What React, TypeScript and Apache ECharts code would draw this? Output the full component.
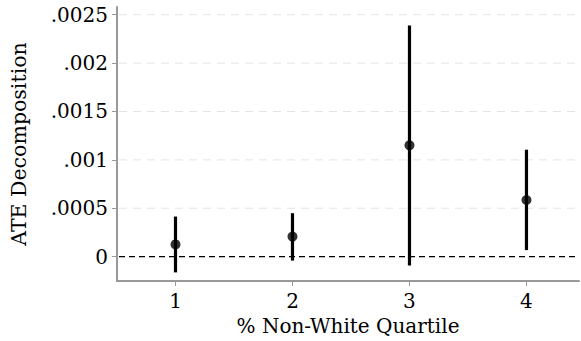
import React, { useEffect, useRef } from "react";
import * as echarts from "echarts";

const quartiles = [1, 2, 3, 4];
const estimates = [0.000126, 0.000207, 0.00115, 0.000585];
const ciLow = [-0.000163, -0.000041, -0.000092, 0.000067];
const ciHigh = [0.000414, 0.000449, 0.00239, 0.001105];
const yTicks = [0, 0.0005, 0.001, 0.0015, 0.002, 0.0025];
const yTickLabels = ["0", ".0005", ".001", ".0015", ".002", ".0025"];
const xTickLabels = ["1", "2", "3", "4"];

const FONT = "'DejaVu Serif', serif";

export default function App() {
  const ref = useRef<HTMLDivElement>(null);
  useEffect(() => {
    if (!ref.current) return;
    const chart = echarts.init(ref.current, undefined, { renderer: "svg" });
    const ciData = quartiles.map((q, i) => [q, ciLow[i], ciHigh[i]]);
    const gridData = yTicks.map((t) => [quartiles[0], t]);
    chart.setOption({
      animation: false,
      backgroundColor: "#ffffff",
      textStyle: { fontFamily: FONT },
      grid: { left: 117, right: 2, top: 7, bottom: 58, containLabel: false },
      xAxis: {
        type: "value",
        min: 0.5,
        max: 4.449,
        name: "% Non-White Quartile",
        nameLocation: "middle",
        nameGap: 35,
        nameTextStyle: { fontFamily: FONT, fontSize: 20, color: "#000" },
        axisLine: { show: true, onZero: false, lineStyle: { color: "#999", width: 2 } },
        axisTick: { show: true, customValues: quartiles, length: 5, lineStyle: { color: "#999", width: 1 } },
        axisLabel: {
          customValues: quartiles,
          formatter: (v: number) => xTickLabels[quartiles.indexOf(v)] ?? "",
          fontFamily: FONT,
          fontSize: 20,
          color: "#000",
          margin: 10,
        },
        splitLine: { show: false },
      },
      yAxis: {
        type: "value",
        min: -0.000252,
        max: 0.00258,
        name: "ATE Decomposition",
        nameLocation: "middle",
        nameGap: 88,
        nameTextStyle: { fontFamily: FONT, fontSize: 20.5, color: "#000" },
        axisLine: { show: true, onZero: false, lineStyle: { color: "#999", width: 2 } },
        axisTick: { show: true, customValues: yTicks, length: 5, lineStyle: { color: "#999", width: 1 } },
        axisLabel: {
          customValues: yTicks,
          formatter: (v: number) => {
            const idx = yTicks.findIndex((t) => Math.abs(t - v) < 1e-9);
            return idx >= 0 ? yTickLabels[idx] : "";
          },
          fontFamily: FONT,
          fontSize: 20,
          color: "#000",
          margin: 9,
        },
        splitLine: { show: false },
      },
      series: [
        {
          type: "custom",
          data: gridData,
          silent: true,
          clip: false,
          renderItem: (params: any, api: any) => {
            const cs = params.coordSys;
            const v = api.value(1);
            const y = api.coord([api.value(0), v])[1];
            const isZero = Math.abs(v) < 1e-12;
            return {
              type: "line",
              shape: { x1: cs.x + 2, y1: y, x2: cs.x + cs.width - 2, y2: y },
              style: isZero
                ? { stroke: "#000", lineWidth: 1.3, lineDash: [6, 4] }
                : { stroke: "#e4e4e4", lineWidth: 1, lineDash: [8, 6] },
              z2: isZero ? 2 : 1,
            };
          },
          z: 1,
        },
        {
          type: "custom",
          data: ciData,
          renderItem: (params: any, api: any) => {
            const x = api.value(0);
            const p1 = api.coord([x, api.value(1)]);
            const p2 = api.coord([x, api.value(2)]);
            return {
              type: "line",
              shape: { x1: p1[0], y1: p1[1], x2: p2[0], y2: p2[1] },
              style: { stroke: "#000", lineWidth: 3.2 },
            };
          },
          z: 3,
        },
        {
          type: "scatter",
          data: quartiles.map((q, i) => [q, estimates[i]]),
          symbol: "circle",
          symbolSize: 10,
          itemStyle: { color: "#000" },
          z: 4,
        },
      ],
    });
    return () => chart.dispose();
  }, []);
  return <div ref={ref} style={{ width: 581, height: 341, position: "absolute", left: 0, top: 0 }} />;
}
